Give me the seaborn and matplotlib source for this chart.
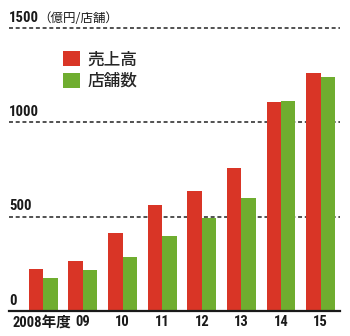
import matplotlib
matplotlib.use("Agg")
import matplotlib.pyplot as plt
import matplotlib.transforms as mtransforms
import seaborn as sns
import pandas as pd
from matplotlib.patches import Patch
from matplotlib import font_manager as fm

years = ["2008", "09", "10", "11", "12", "13", "14", "15"]
year_labels = ["2008年度", "09", "10", "11", "12", "13", "14", "15"]
sales = [221, 267, 412, 560, 638, 758, 1106, 1260]
stores = [176, 217, 286, 399, 495, 600, 1111, 1240]
series_names = ["売上高", "店舗数"]
y_ticks = [0, 500, 1000, 1500]
unit_label = "（億円/店舗）"

names = {f.name for f in fm.fontManager.ttflist}
cond = None
for c in ["DejaVu Sans Condensed", "Liberation Sans Narrow", "Roboto Condensed"]:
    if c in names:
        cond = c
        break

sns.set_theme(style="white")
plt.rcParams["font.family"] = ["DejaVu Sans", "Noto Sans CJK JP"]
num_family = [cond, "Noto Sans CJK JP"] if cond else ["DejaVu Sans", "Noto Sans CJK JP"]

df = pd.DataFrame({
    "year": years * 2,
    "value": sales + stores,
    "series": [series_names[0]] * len(years) + [series_names[1]] * len(years),
})

colors = ["#D93526", "#6FAD2F"]

fig = plt.figure(figsize=(3.5, 3.36), dpi=100)
ax = fig.add_axes([9 / 350, 25 / 336, 331 / 350, (311 - 28) / 336])

sns.barplot(data=df, x="year", y="value", hue="series", palette=colors,
            width=0.73, saturation=1, ax=ax, legend=False, edgecolor="none")

ax.set_xlim(-0.866, 7.49)
ax.set_ylim(0, 1500)
for s in ["top", "right", "left"]:
    ax.spines[s].set_visible(False)
ax.spines["bottom"].set_color("#1a1a1a")
ax.spines["bottom"].set_linewidth(1.6)
ax.set_xlabel("")
ax.set_ylabel("")
ax.set_yticks([])

for v in y_ticks[1:]:
    ax.axhline(v, color="#222222", lw=1.1, ls=(0, (2.6, 1.8)), zorder=0, clip_on=False)

for v in y_ticks:
    ax.annotate(str(v), xy=(0, v), xycoords=("axes fraction", "data"),
                xytext=(0, 2.5), textcoords="offset points", ha="left", va="bottom",
                fontsize=10.6, fontweight="bold", family=num_family, color="#1a1a1a",
                annotation_clip=False)
ax.annotate(unit_label, xy=(0, 1500), xycoords=("axes fraction", "data"),
            xytext=(21, 2.5), textcoords="offset points", ha="left", va="bottom",
            fontsize=9, family=["Noto Sans CJK JP"], color="#1a1a1a",
            annotation_clip=False)

ax.set_xticks(range(len(years)))
ax.set_xticklabels(year_labels, fontsize=10.5, fontweight="bold", family=num_family,
                   color="#1a1a1a")
ax.tick_params(axis="x", length=0, pad=3)
first = ax.get_xticklabels()[0]
first.set_horizontalalignment("left")
first.set_transform(first.get_transform() + mtransforms.ScaledTranslation(-31 / 100, 0, fig.dpi_scale_trans))

handles = [Patch(facecolor=c, edgecolor="none") for c in colors]
leg = ax.legend(handles, series_names, loc="upper left", bbox_to_anchor=(0.163, 0.92),
                frameon=False, prop={"family": "Noto Sans CJK JP", "size": 12, "weight": "medium"},
                handlelength=1.0, handleheight=1.0, handletextpad=0.45,
                labelspacing=0.2, borderaxespad=0, borderpad=0)

fig.savefig("out.png", dpi=100)
